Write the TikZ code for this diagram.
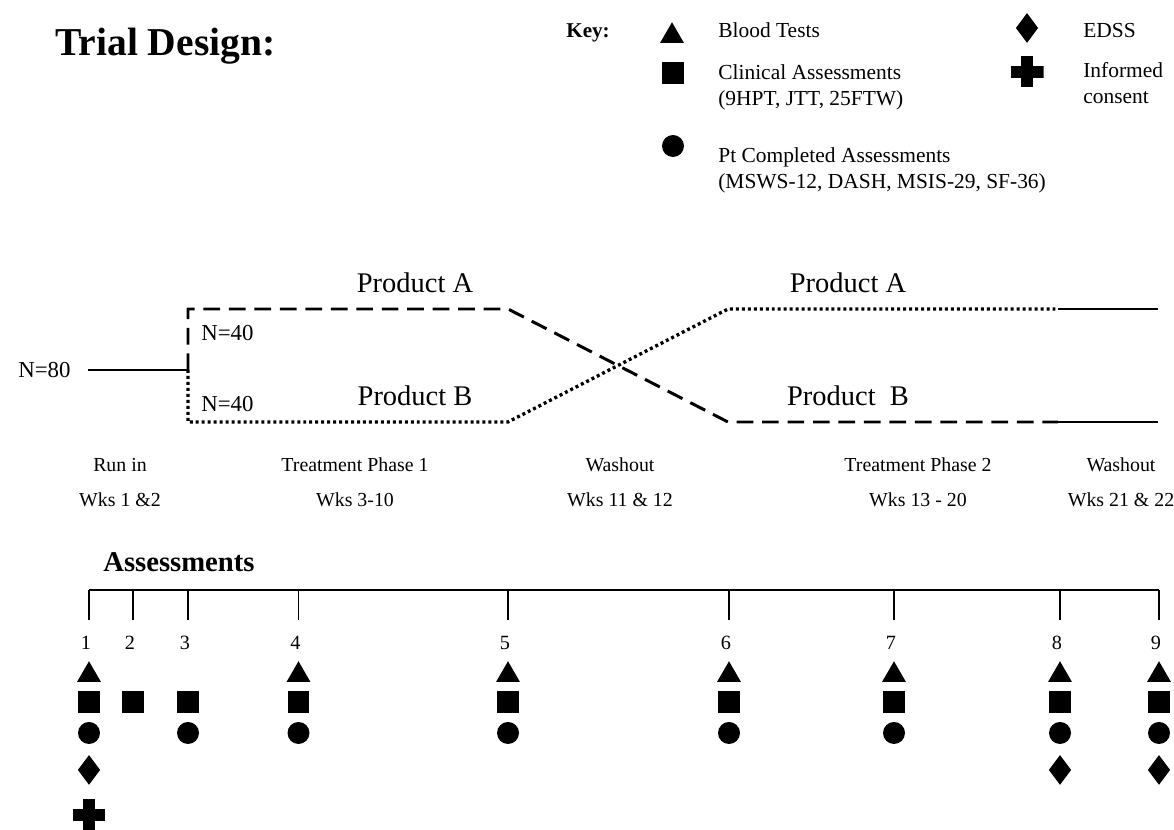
\documentclass[tikz,border=0pt]{standalone}
\usepackage{fontspec}
\setmainfont{Liberation Serif}
\usetikzlibrary{shapes.geometric,calc}
\tikzset{
  runline/.style={line width=1.7pt},
  armA/.style={line width=1.7pt,dash pattern=on 9.5pt off 5pt},
  armB/.style={line width=1.9pt,dash pattern=on 1.7pt off 1.7pt},
  bracket/.style={line width=0.7pt},
  blood/.style={regular polygon,regular polygon sides=3,fill,inner sep=0pt,minimum size=0.55cm},
  clin/.style={rectangle,fill,inner sep=0pt,minimum size=0.43cm},
  ptass/.style={circle,fill,inner sep=0pt,minimum size=0.44cm},
  edss/.style={diamond,fill,inner sep=0pt,minimum width=0.45cm,minimum height=0.6cm},
  consent/.style={rectangle,inner sep=0pt,minimum width=0.66cm,minimum height=0.62cm,
    path picture={
      \fill ([xshift=-0.33cm,yshift=-0.12cm]path picture bounding box.center) rectangle ([xshift=0.33cm,yshift=0.12cm]path picture bounding box.center);
      \fill ([xshift=-0.12cm,yshift=-0.31cm]path picture bounding box.center) rectangle ([xshift=0.12cm,yshift=0.31cm]path picture bounding box.center);}},
  keytxt/.style={anchor=base west,align=left,font=\fontsize{12.2}{14.8}\selectfont},
  prodlbl/.style={anchor=base,font=\fontsize{16.2}{18}\selectfont},
  phaselbl/.style={anchor=base,align=center,font=\fontsize{11.3}{20.4}\selectfont},
  nlbl/.style={anchor=base west,font=\fontsize{13}{15}\selectfont},
  visnum/.style={anchor=base,font=\fontsize{11.5}{14}\selectfont},
  every node/.style={inner sep=0pt}
}

\begin{document}
\begin{tikzpicture}[x=0.02cm,y=-0.02cm]
\useasboundingbox (0,0) rectangle (1174,830);
% title and key
\node[anchor=base west,font=\fontsize{22.5}{26}\selectfont\bfseries] (title) at (55,56) {Trial Design:};
\node[anchor=base west,font=\fontsize{12}{14}\selectfont\bfseries] (key) at (566,38) {Key:};
\node[blood] (kbt) at (672,36) {};
\node[keytxt] (kbttxt) at (718,38) {Blood Tests};
\node[clin] (kca) at (673,73) {};
\node[keytxt] (kcatxt) at (718,106) {Clinical Assessments\\(9HPT, JTT, 25FTW)};
\node[ptass] (kpt) at (673,146) {};
\node[keytxt] (kpttxt) at (718,189) {Pt Completed Assessments\\(MSWS-12, DASH, MSIS-29, SF-36)};
\node[edss] (ked) at (1027,28) {};
\node[keytxt] (kedtxt) at (1083,38) {EDSS};
\node[consent] (kic) at (1027,72) {};
\node[keytxt] (kictxt) at (1083,104) {Informed\\consent};

% arms
\node[nlbl] (n80) at (18,378) {N=80};
\coordinate (start) at (88,370);
\coordinate (split) at (188,370);
\coordinate (a1) at (188,309);
\coordinate (a2) at (508,309);
\coordinate (a3) at (728,422);
\coordinate (a4) at (1058,422);
\coordinate (a5) at (1158,422);
\coordinate (b1) at (188,422);
\coordinate (b2) at (508,422);
\coordinate (b3) at (728,309);
\coordinate (b4) at (1058,309);
\coordinate (b5) at (1158,309);
\draw[runline] (start) -- (split);
\draw[armA] (split) -- (a1) -- (a2) -- (a3) -- (a4);
\draw[runline] (a4) -- (a5);
\draw[armB] (split) -- (b1) -- (b2) -- (b3) -- (b4);
\draw[runline] (b4) -- (b5);
\node[nlbl] (n40a) at (201,341) {N=40};
\node[nlbl] (n40b) at (201,412) {N=40};
\node[prodlbl] (pa1) at (415,293) {Product A};
\node[prodlbl] (pb1) at (415,406) {Product B};
\node[prodlbl] (pa2) at (848,293) {Product A};
\node[prodlbl] (pb2) at (848,406) {Product\ \ B};

% phases
\node[phaselbl] (ph0) at (120,507) {Run in\\Wks 1 \&2};
\node[phaselbl] (ph1) at (355,507) {Treatment Phase 1\\Wks 3-10};
\node[phaselbl] (ph2) at (620,507) {Washout\\Wks 11 \& 12};
\node[phaselbl] (ph3) at (918,507) {Treatment Phase 2\\Wks 13 - 20};
\node[phaselbl] (ph4) at (1121,507) {Washout\\Wks 21 \& 22};

% assessment visits
\node[anchor=base west,font=\fontsize{16.3}{18}\selectfont\bfseries] (asslbl) at (103,572) {Assessments};
\foreach \i/\x in {1/89,2/133,3/188,4/298.5,5/508,6/729,7/894,8/1060,9/1159} {
  \coordinate (top\i) at (\x,590);
  \coordinate (bot\i) at (\x,620);
  \draw[bracket] (top\i) -- (bot\i);
  \node[visnum] (num\i) at (\x-3,650) {\i};
  \node[clin] (ca\i) at ([yshift=-2.24cm]top\i) {};
}
\draw[bracket] (top1) -- (top9);
\foreach \i in {1,4,5,6,7,8,9}
  \node[blood] (bt\i) at ([yshift=-1.7cm]top\i) {};
\foreach \i in {1,3,4,5,6,7,8,9}
  \node[ptass] (pt\i) at ([yshift=-2.86cm]top\i) {};
\foreach \i in {1,8,9}
  \node[edss] (ed\i) at ([yshift=-3.6cm]top\i) {};
\node[consent] (ic1) at ([yshift=-4.5cm]top1) {};
\end{tikzpicture}
\end{document}
